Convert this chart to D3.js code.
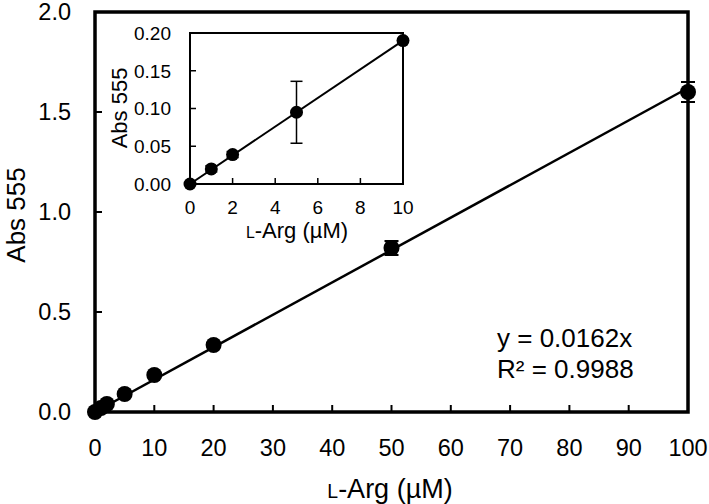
<!DOCTYPE html>
<html><head><meta charset="utf-8">
<script src="https://cdn.jsdelivr.net/npm/d3@7/dist/d3.min.js"></script>
<style>body{margin:0;background:#fff}svg{display:block;font-family:Arial,"Liberation Sans",sans-serif}</style>
</head><body><svg id="c" width="709" height="504"></svg>
<script>
// Main data
const concMain = [0, 1, 2, 5, 10, 20, 50, 100];
const absMain  = [0, 0.02, 0.04, 0.09, 0.185, 0.335, 0.82, 1.60];
const errMain  = [0, 0.003, 0.004, 0.004, 0.005, 0.005, 0.035, 0.05];
const xTicksMain = [0,10,20,30,40,50,60,70,80,90,100];
const yTicksMain = [0,0.5,1.0,1.5,2.0];
const slopeMain = 0.0162;
// Inset data
const concIn = [0, 1, 2, 5, 10];
const absIn  = [0, 0.02, 0.039, 0.095, 0.19];
const errIn  = [0, 0.004, 0.004, 0.041, 0.002];
const xTicksIn = [0,2,4,6,8,10];
const yTicksIn = [0,0.05,0.10,0.15,0.20];
const slopeIn = 0.019;
const eqText = ["y = 0.0162x", "R² = 0.9988"];

const svg = d3.select("#c");

function panel(g, o){
  const x = d3.scaleLinear().domain(o.xd).range([o.x0, o.x1]);
  const y = d3.scaleLinear().domain(o.yd).range([o.y0, o.y1]);
  g.append("line").attr("x1", x(o.xd[0])).attr("y1", y(o.slope*o.xd[0]))
    .attr("x2", x(o.lineEnd)).attr("y2", y(o.slope*o.lineEnd))
    .attr("stroke","#000").attr("stroke-width", o.lw);
  g.append("rect").attr("x", o.x0).attr("y", o.y1).attr("width", o.x1-o.x0).attr("height", o.y0-o.y1)
    .attr("fill","none").attr("stroke","#000").attr("stroke-width", o.fw);
  o.xt.forEach(t=>{ if(t===o.xd[0]||t===o.xd[1]) return;
    g.append("line").attr("x1",x(t)).attr("x2",x(t)).attr("y1",o.y0).attr("y2",o.y0-o.tl)
      .attr("stroke","#000").attr("stroke-width",o.tw);});
  o.yt.forEach(t=>{ if(t===o.yd[0]||t===o.yd[1]) return;
    g.append("line").attr("x1",o.x0).attr("x2",o.x0+o.tl).attr("y1",y(t)).attr("y2",y(t))
      .attr("stroke","#000").attr("stroke-width",o.tw);});
  o.xt.forEach(t=>{
    g.append("text").attr("x",x(t)).attr("y",o.y0+o.xlOff).attr("text-anchor","middle")
      .attr("font-size",o.tfs).text(d3.format("d")(t));});
  o.yt.forEach(t=>{
    g.append("text").attr("x",o.x0-o.ylOff).attr("y",y(t)).attr("dy","0.36em").attr("text-anchor","end")
      .attr("font-size",o.tfs).text(d3.format(o.yfmt)(t));});
  o.cx.forEach((c,i)=>{
    const e=o.err[i]; if(!e) return;
    const cx=x(c), yt=y(o.cy[i]+e), yb=y(o.cy[i]-e);
    g.append("line").attr("x1",cx).attr("x2",cx).attr("y1",yt).attr("y2",yb).attr("stroke","#000").attr("stroke-width",o.ew);
    [yt,yb].forEach(yy=>g.append("line").attr("x1",cx-o.cap).attr("x2",cx+o.cap).attr("y1",yy).attr("y2",yy).attr("stroke","#000").attr("stroke-width",o.ew));
  });
  o.cx.forEach((c,i)=>{
    g.append("circle").attr("cx",x(c)).attr("cy",y(o.cy[i])).attr("r",o.r).attr("fill","#000");
  });
  return {x,y};
}

const mainG = svg.append("g");
panel(mainG, {xd:[0,100], yd:[0,2], x0:95, x1:688, y0:412, y1:12, slope:slopeMain, lineEnd:100,
  lw:2.5, fw:3.5, tw:2, tl:7, xt:xTicksMain, yt:yTicksMain, tfs:23.5, xlOff:44, ylOff:24, yfmt:".1f",
  cx:concMain, cy:absMain, err:errMain, ew:2, cap:7, r:8});

const inG = svg.append("g");
panel(inG, {xd:[0,10], yd:[0,0.2], x0:190, x1:403, y0:184, y1:33, slope:slopeIn, lineEnd:10,
  lw:2, fw:2, tw:1.5, tl:6, xt:xTicksIn, yt:yTicksIn, tfs:19, xlOff:30, ylOff:19, yfmt:".2f",
  cx:concIn, cy:absIn, err:errIn, ew:1.5, cap:6, r:6.5});

function argLabel(sel, x, y, fs){
  const t = sel.append("text").attr("x",x).attr("y",y).attr("text-anchor","middle").attr("font-size",fs);
  t.append("tspan").attr("font-size",fs*0.72).text("L");
  t.append("tspan").text("-Arg (µM)");
}
argLabel(svg, 390, 498, 27);
svg.append("text").attr("transform","translate(25,215) rotate(-90)").attr("text-anchor","middle")
  .attr("font-size",26).text("Abs 555");
argLabel(svg, 297, 238, 22);
svg.append("text").attr("transform","translate(127,108) rotate(-90)").attr("text-anchor","middle")
  .attr("font-size",22).text("Abs 555");

svg.selectAll("text.eq").data(eqText).enter().append("text").attr("class","eq")
  .attr("x",497).attr("y",(d,i)=>347+i*31).attr("font-size",26).text(d=>d);
</script></body></html>
